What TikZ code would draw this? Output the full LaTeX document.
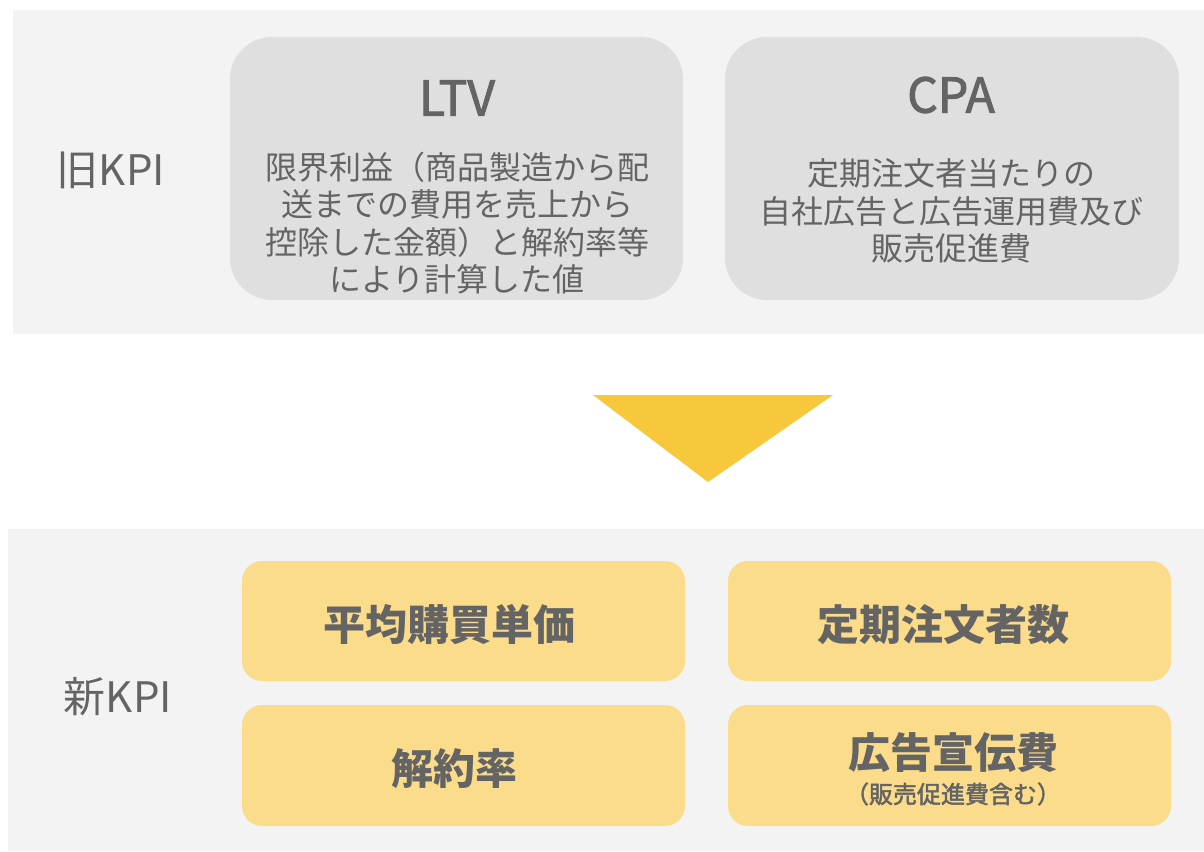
\documentclass[tikz,border=0pt]{standalone}
\usepackage{fontspec}
\setmainfont{Noto Sans CJK JP}
\newfontfamily\medfont[FakeBold=2]{Noto Sans CJK JP}
\definecolor{panelbg}{HTML}{F3F3F3}
\definecolor{greybox}{HTML}{DFDFDF}
\definecolor{yellowbox}{HTML}{FADC8A}
\definecolor{arrowyellow}{HTML}{F8C83C}
\definecolor{txt}{HTML}{646464}
\begin{document}
\begin{tikzpicture}[x=1pt,y=-1pt,
  panel/.style={fill=panelbg,draw=none},
  oldbox/.style={fill=greybox,draw=none,rounded corners=42pt},
  newbox/.style={fill=yellowbox,draw=none,rounded corners=20pt},
  lbl/.style={text=txt,inner sep=0pt,font=\fontsize{42}{46}\selectfont},
  oldtitle/.style={text=txt,inner sep=0pt,font=\medfont\fontsize{48}{52}\selectfont},
  oldbody/.style={text=txt,inner sep=0pt,align=center,font=\fontsize{32}{37.5}\selectfont},
  newtitle/.style={text=txt,inner sep=0pt,font=\bfseries\fontsize{42}{46}\selectfont},
  newsub/.style={text=txt,inner sep=0pt,font=\medfont\fontsize{24}{26}\selectfont}]
\useasboundingbox (0,0) rectangle (1204,851);
% panels
\path[panel] (13,10) rectangle (1204,334);
\path[panel] (8,529) rectangle (1204,851);
% old boxes
\path[oldbox] (230,37) rectangle (683,300);
\path[oldbox] (725,37) rectangle (1179,300);
\node[lbl] (oldlbl) at (111,170) {旧KPI};
\node[oldtitle] (ltvt) at (457,98) {LTV};
\node[oldbody] (ltvb) at (457,223) {限界利益（商品製造から配\\送までの費用を売上から\\控除した金額）と解約率等\\により計算した値};
\node[oldtitle] (cpat) at (951,95) {CPA};
\node[oldbody] (cpab) at (951,211) {定期注文者当たりの\\自社広告と広告運用費及び\\販売促進費};
% arrow
\fill[arrowyellow] (593,395) -- (833,395) -- (708,482) -- cycle;
% new boxes
\path[newbox] (242,561) rectangle (685,681);
\path[newbox] (728,561) rectangle (1171,681);
\path[newbox] (242,705) rectangle (685,826);
\path[newbox] (728,705) rectangle (1171,826);
\node[lbl] (newlbl) at (118,697) {新KPI};
\node[newtitle] (n1) at (449,625) {平均購買単価};
\node[newtitle] (n2) at (943,625) {定期注文者数};
\node[newtitle] (n3) at (454,769) {解約率};
\node[newtitle] (n4) at (953,753) {広告宣伝費};
\node[newsub] (n4s) at (953,794) {（販売促進費含む）};
\end{tikzpicture}
\end{document}
